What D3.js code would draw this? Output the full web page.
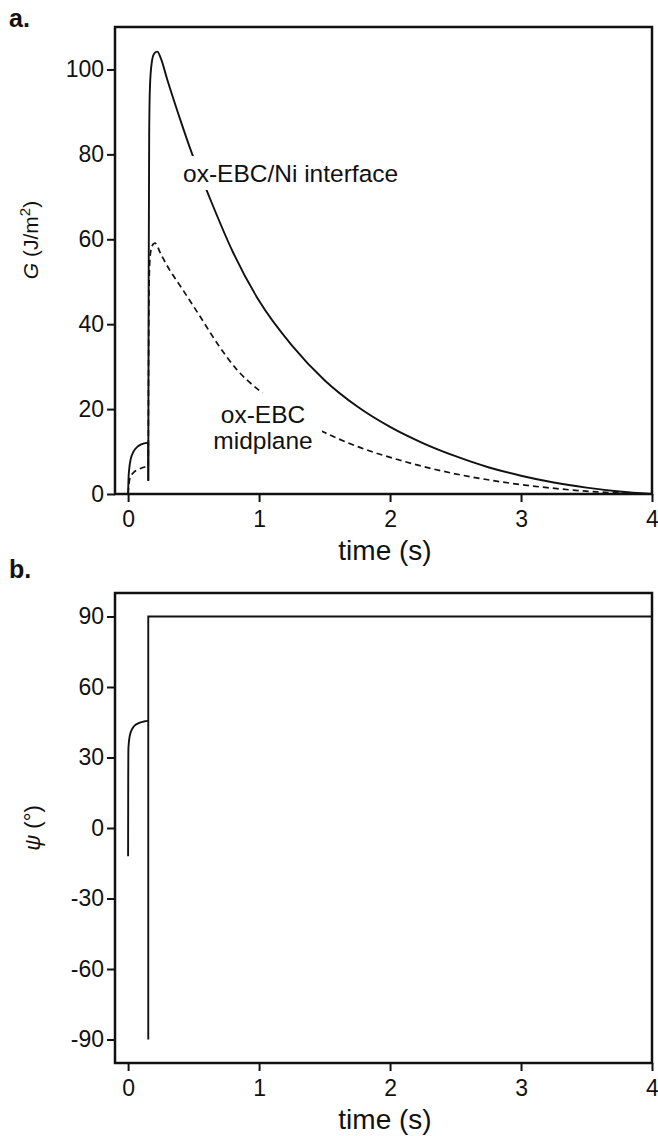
<!DOCTYPE html>
<html>
<head>
<meta charset="utf-8">
<script src="https://cdn.jsdelivr.net/npm/d3@7"></script>
<style>
  body { margin: 0; background: #fff; }
  svg text { font-family: "Liberation Sans", Arial, sans-serif; fill: #111; }
</style>
</head>
<body>
<div id="chart"></div>
<script>
// ---- data ----
// energy release rate G (J/m^2) vs time (s)
const interfaceRise = [[0, 0], [0.003, 3.5], [0.01, 6.3], [0.02, 8.2], [0.04, 9.9], [0.07, 11.1], [0.1, 11.7], [0.154, 12.1]];
const interfaceJump = [[0.154, 12.1], [0.154, 3.1]];
const interfaceMain = [[0.154, 3.1], [0.157, 50], [0.161, 85], [0.167, 96], [0.18, 101.5], [0.2, 103.8], [0.223, 104.2],
  [0.25, 102.6], [0.3, 97.5], [0.4, 88], [0.49, 80], [0.6, 71.5], [0.8, 57], [1.0, 45.5], [1.25, 35],
  [1.5, 26.8], [1.75, 20.6], [2.0, 15.8], [2.25, 12], [2.5, 8.9], [2.75, 6.3], [3.0, 4.3], [3.25, 2.7],
  [3.5, 1.5], [3.75, 0.6], [4.0, 0]];
const midplaneRise = [[0, 0], [0.005, 2], [0.015, 3.8], [0.04, 5], [0.08, 5.8], [0.154, 6.6]];
const midplaneMain = [[0.154, 6.6], [0.157, 35], [0.162, 52], [0.172, 57], [0.19, 58.8], [0.205, 59.1],
  [0.25, 56.5], [0.29, 54.2], [0.42, 48], [0.55, 41.8], [0.68, 35.5], [0.83, 29.3], [1.0, 24.4],
  [1.25, 18.8], [1.48, 14.8], [1.75, 11.2], [2.07, 8.0], [2.4, 5.4], [2.84, 2.9], [3.2, 1.5],
  [3.58, 0.5], [4.0, 0]];
// mode-mixity angle psi (deg) vs time (s)
const psiRise = [[0, -12], [0.001, 20], [0.002, 33], [0.006, 36.5], [0.012, 39], [0.025, 41.5], [0.045, 43.3],
  [0.08, 44.6], [0.12, 45.3], [0.154, 45.6]];
const psiJump = [[0.154, 45.6], [0.154, -90], [0.154, 90], [4.0, 90]];

const timeTicks = [0, 1, 2, 3, 4];
const gTicks = [0, 20, 40, 60, 80, 100];
const psiTicks = [-90, -60, -30, 0, 30, 60, 90];

// ---- layout ----
const width = 658, height = 1136;
const svg = d3.select("#chart").append("svg")
  .attr("width", width).attr("height", height);

const x = d3.scaleLinear().domain([-0.1, 4]).range([115, 652]);
const yG = d3.scaleLinear().domain([0, 110]).range([494, 27]);
const yPsi = d3.scaleLinear().domain([-100, 100]).range([1063, 593]);

const fmt = d => String(d);

function panel(y, ticks, yBottom) {
  const g = svg.append("g");
  g.append("g")
    .attr("transform", `translate(0,${yBottom})`)
    .call(d3.axisBottom(x).tickValues(timeTicks).tickFormat(fmt).tickSize(8).tickPadding(9).tickSizeOuter(0));
  g.append("g")
    .attr("transform", `translate(${x.range()[0]},0)`)
    .call(d3.axisLeft(y).tickValues(ticks).tickFormat(fmt).tickSize(8).tickPadding(3).tickSizeOuter(0));
  g.selectAll(".domain").remove();
  g.selectAll(".tick line").attr("stroke", "#111").attr("stroke-width", 2);
  g.selectAll(".tick text").style("font-size", "23px").attr("fill", "#111");
  g.append("rect")
    .attr("x", x.range()[0]).attr("y", y.range()[1])
    .attr("width", x.range()[1] - x.range()[0])
    .attr("height", y.range()[0] - y.range()[1])
    .attr("fill", "none").attr("stroke", "#111").attr("stroke-width", 2.5);
  return g;
}

const smooth = (y) => d3.line().x(d => x(d[0])).y(d => y(d[1])).curve(d3.curveMonotoneX);
const straight = (y) => d3.line().x(d => x(d[0])).y(d => y(d[1]));

// ---- panel a ----
panel(yG, gTicks, 494);

const dashed = svg.append("g").attr("fill", "none").attr("stroke", "#111")
  .attr("stroke-width", 1.7).attr("stroke-dasharray", "6,4");
dashed.append("path").attr("d", smooth(yG)(midplaneRise));
dashed.append("path").attr("d", smooth(yG)(midplaneMain));

// gap in dashed line around its label
svg.append("rect").attr("x", 206).attr("y", 393).attr("width", 116).attr("height", 64).attr("fill", "#fff");

const solid = svg.append("g").attr("fill", "none").attr("stroke", "#111").attr("stroke-width", 1.9);
solid.append("path").attr("d", smooth(yG)(interfaceRise));
solid.append("path").attr("d", straight(yG)(interfaceJump));
solid.append("path").attr("d", smooth(yG)(interfaceMain));

// gap in solid line around its label
svg.append("rect").attr("x", 180).attr("y", 156).attr("width", 232).attr("height", 34).attr("fill", "#fff");

svg.append("text").attr("x", 183).attr("y", 182).style("font-size", "24.5px").text("ox-EBC/Ni interface");
svg.append("text").attr("x", 263).attr("y", 423).attr("text-anchor", "middle").style("font-size", "24.5px").text("ox-EBC");
svg.append("text").attr("x", 263).attr("y", 449).attr("text-anchor", "middle").style("font-size", "24.5px").text("midplane");

svg.append("text").attr("x", 385).attr("y", 560).attr("text-anchor", "middle").style("font-size", "28px").text("time (s)");

const gLab = svg.append("text")
  .attr("transform", "translate(38,240) rotate(-90)")
  .attr("text-anchor", "middle").style("font-size", "21px");
gLab.append("tspan").style("font-style", "italic").text("G");
gLab.append("tspan").text(" (J/m");
gLab.append("tspan").attr("dy", -8).style("font-size", "15px").text("2");
gLab.append("tspan").attr("dy", 8).text(")");

svg.append("text").attr("x", 9).attr("y", 27).style("font-size", "25px").style("font-weight", "bold").text("a.");

// ---- panel b ----
panel(yPsi, psiTicks, 1063);

const psiLine = svg.append("g").attr("fill", "none").attr("stroke", "#111").attr("stroke-width", 1.9);
psiLine.append("path").attr("d", smooth(yPsi)(psiRise));
psiLine.append("path").attr("d", straight(yPsi)(psiJump));

svg.append("text").attr("x", 385).attr("y", 1129).attr("text-anchor", "middle").style("font-size", "28px").text("time (s)");

const psiLab = svg.append("text")
  .attr("transform", "translate(40,828) rotate(-90)")
  .attr("text-anchor", "middle").style("font-size", "22px");
psiLab.append("tspan").style("font-style", "italic").text("ψ");
psiLab.append("tspan").text(" (°)");

svg.append("text").attr("x", 9).attr("y", 578).style("font-size", "25px").style("font-weight", "bold").text("b.");
</script>
</body>
</html>
